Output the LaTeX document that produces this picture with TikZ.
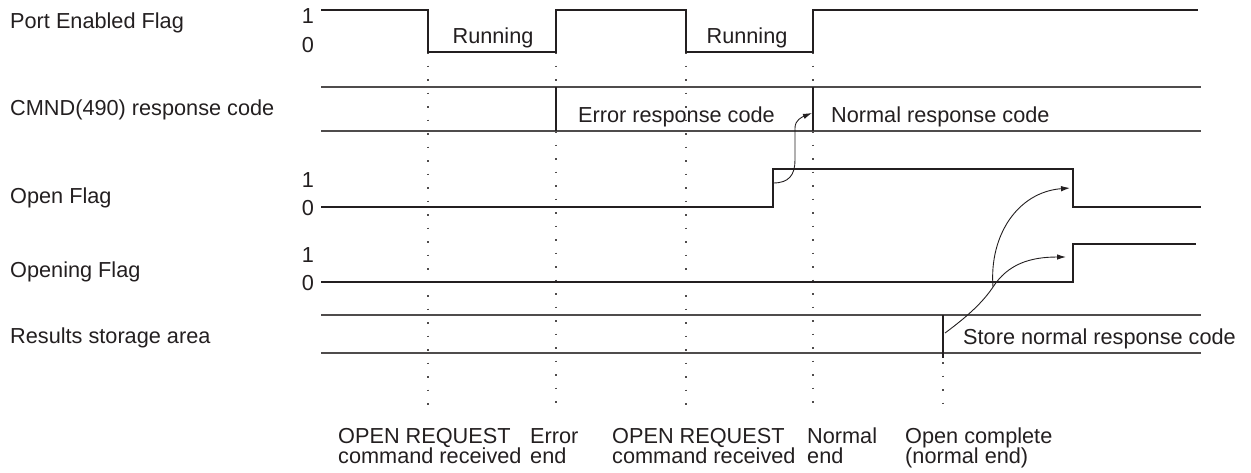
\documentclass[tikz,border=0pt]{standalone}
\usepackage{fontspec}
\setmainfont{Liberation Sans}
\usetikzlibrary{arrows.meta}
\definecolor{ink}{RGB}{35,31,32}
\begin{document}
\begin{tikzpicture}[x=1pt,y=-1pt,
  wave/.style={line width=1.3pt, ink, line join=miter},
  band/.style={line width=1.3pt, ink!80},
  guide/.style={line width=1.2pt, ink!80, dash pattern=on 1.6pt off 11.9pt},
  arr/.style={line width=0.9pt, ink, -{Latex[length=9pt,width=5.5pt]}},
  txt/.style={font=\fontsize{21.7}{17}\selectfont, text=ink, inner sep=0pt},
  lbl/.style={txt, anchor=base west},
  lvl/.style={txt, anchor=base}]
\useasboundingbox (0,0) rectangle (1251,472);

% ---- signal names
\node[lbl] (lpe) at (10,28)  {Port Enabled Flag};
\node[lbl] (lcm) at (10,115) {CMND(490) response code};
\node[lbl] (lof) at (10,203) {Open Flag};
\node[lbl] (log) at (10,277) {Opening Flag};
\node[lbl] (lrs) at (10,343) {Results storage area};

% ---- level labels
\node[lvl] (pe1) at (308,23)  {1};
\node[lvl] (pe0) at (308,52)  {0};
\node[lvl] (of1) at (308,187) {1};
\node[lvl] (of0) at (308,215) {0};
\node[lvl] (og1) at (308,262) {1};
\node[lvl] (og0) at (308,290) {0};

% ---- guide (dotted) lines
\draw[guide] (428,52) -- (428,412);
\draw[guide] (686,52) -- (686,412);
\draw[guide] (556,52) -- (556,87);
\draw[guide] (556,131) -- (556,412);
\draw[guide] (813,52) -- (813,87);
\draw[guide] (813,131) -- (813,412);
\draw[guide] (943,362) -- (943,410);

% ---- Port Enabled Flag
\draw[wave] (321,10) -- (428,10) -- (428,52) -- (556,52) -- (556,10)
  -- (686,10) -- (686,52) -- (813,52) -- (813,10) -- (1198,10);
\node[lvl] (run1) at (493,43) {Running};
\node[lvl] (run2) at (747,43) {Running};

% ---- CMND(490) response code
\draw[band] (321,87) -- (1201,87);
\draw[band] (321,131) -- (1201,131);
\draw[wave] (556,87) -- (556,131);
\draw[wave] (813,87) -- (813,131);
\node[lbl] (err) at (578,122) {Error response code};
\node[lbl] (nrm) at (831,122) {Normal response code};

% ---- Open Flag
\draw[wave] (321,207) -- (773,207) -- (773,169) -- (1073,169) -- (1073,207) -- (1201,207);

% ---- Opening Flag
\draw[wave] (321,282) -- (1073,282) -- (1073,244) -- (1196,244);

% ---- Results storage area
\draw[band] (321,315) -- (1201,315);
\draw[band] (321,353) -- (1201,353);
\draw[wave] (943,315) -- (943,358);
\node[lbl] (sto) at (963,344) {Store normal response code};

% ---- arrows
\coordinate (a1s) at (773,183);
\coordinate (a1e) at (812,113);
\coordinate (a2s) at (945,333);
\coordinate (a2m) at (993,287);
\coordinate (a2e) at (1066,257);
\coordinate (a3e) at (1070,188);
\draw[arr] (a1s) .. controls (789,183) and (795,175) .. (795,160) -- (795,128)
  .. controls (795,120) and (802,117) .. (a1e);
\draw[arr] (a2s) .. controls (968,316) and (983,302) .. (a2m)
  .. controls (1008,264) and (1030,257) .. (a2e);
\draw[arr] (a2m) .. controls (989,235) and (1018,192) .. (a3e);

% ---- event labels
\node[lbl] (e1a) at (338,443) {OPEN REQUEST};
\node[lbl] (e1b) at (338,463) {command received};
\node[lbl] (e2a) at (530,443) {Error};
\node[lbl] (e2b) at (530,463) {end};
\node[lbl] (e3a) at (612,443) {OPEN REQUEST};
\node[lbl] (e3b) at (612,463) {command received};
\node[lbl] (e4a) at (807,443) {Normal};
\node[lbl] (e4b) at (807,463) {end};
\node[lbl] (e5a) at (905,443) {Open complete};
\node[lbl] (e5b) at (905,463) {(normal end)};
\end{tikzpicture}
\end{document}
